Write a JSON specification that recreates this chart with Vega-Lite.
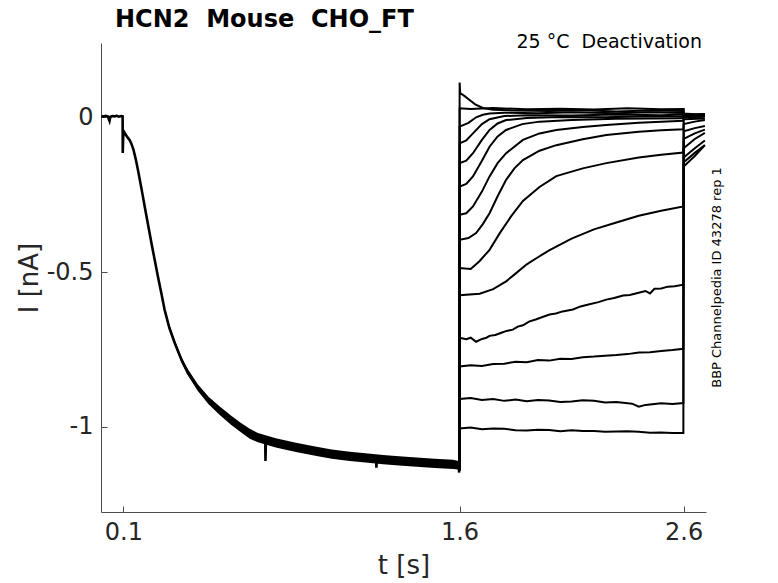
{
  "$schema": "https://vega.github.io/schema/vega-lite/v6.json",
  "width": 605,
  "height": 469,
  "autosize": {"type": "none"},
  "padding": {"left": 101, "top": 43, "right": 72, "bottom": 71},
  "background": "white",
  "config": {
    "view": {"stroke": null},
    "font": "DejaVu Sans",
    "axis": {
      "grid": false,
      "domainColor": "#4d4d4d",
      "tickColor": "#4d4d4d",
      "domainWidth": 1,
      "tickWidth": 1,
      "tickSize": -6,
      "labelColor": "#262626",
      "titleColor": "#262626",
      "labelFont": "DejaVu Sans",
      "titleFont": "DejaVu Sans",
      "labelFontSize": 24,
      "titleFontSize": 26,
      "titleFontWeight": "normal"
    }
  },
  "title": {
    "text": "HCN2\u00a0\u00a0Mouse\u00a0\u00a0CHO_FT",
    "anchor": "start",
    "frame": "group",
    "dx": 14,
    "dy": 34,
    "offset": 16.5,
    "baseline": "alphabetic",
    "font": "DejaVu Sans",
    "fontSize": 24,
    "fontWeight": "bold",
    "color": "#000000"
  },
  "datasets": {
    "band": [
      {"t": 0.3, "lo": -0.675, "hi": -0.662},
      {"t": 0.33, "lo": -0.737, "hi": -0.721},
      {"t": 0.36, "lo": -0.794, "hi": -0.776},
      {"t": 0.39, "lo": -0.836, "hi": -0.816},
      {"t": 0.433, "lo": -0.885, "hi": -0.863},
      {"t": 0.48, "lo": -0.927, "hi": -0.903},
      {"t": 0.53, "lo": -0.962, "hi": -0.934},
      {"t": 0.58, "lo": -0.993, "hi": -0.963},
      {"t": 0.62, "lo": -1.015, "hi": -0.985},
      {"t": 0.664, "lo": -1.038, "hi": -1.006},
      {"t": 0.7, "lo": -1.05, "hi": -1.02},
      {"t": 0.78, "lo": -1.067, "hi": -1.037},
      {"t": 0.87, "lo": -1.081, "hi": -1.051},
      {"t": 0.962, "lo": -1.094, "hi": -1.064},
      {"t": 1.03, "lo": -1.103, "hi": -1.073},
      {"t": 1.11, "lo": -1.11, "hi": -1.08},
      {"t": 1.18, "lo": -1.115, "hi": -1.085},
      {"t": 1.259, "lo": -1.121, "hi": -1.091},
      {"t": 1.33, "lo": -1.125, "hi": -1.095},
      {"t": 1.408, "lo": -1.129, "hi": -1.099},
      {"t": 1.49, "lo": -1.133, "hi": -1.103},
      {"t": 1.571, "lo": -1.136, "hi": -1.106},
      {"t": 1.596, "lo": -1.138, "hi": -1.11}
    ],
    "act": [
      {"t": 0.002, "i": 0.004}, {"t": 0.01, "i": 0.002}, {"t": 0.02, "i": 0.005}, {"t": 0.03, "i": 0.003},
      {"t": 0.038, "i": -0.012}, {"t": 0.042, "i": 0.002}, {"t": 0.05, "i": 0.004}, {"t": 0.06, "i": 0.003},
      {"t": 0.07, "i": 0.005}, {"t": 0.08, "i": 0.002}, {"t": 0.09, "i": 0.004}, {"t": 0.0965, "i": 0.003},
      {"t": 0.097, "i": -0.115}, {"t": 0.099, "i": -0.065}, {"t": 0.101, "i": -0.045}, {"t": 0.105, "i": -0.05},
      {"t": 0.112, "i": -0.058}, {"t": 0.12, "i": -0.066}, {"t": 0.128, "i": -0.074}, {"t": 0.136, "i": -0.086},
      {"t": 0.145, "i": -0.105}, {"t": 0.155, "i": -0.135}, {"t": 0.165, "i": -0.17}, {"t": 0.18, "i": -0.228},
      {"t": 0.195, "i": -0.288}, {"t": 0.21, "i": -0.347}, {"t": 0.225, "i": -0.406}, {"t": 0.24, "i": -0.462},
      {"t": 0.254, "i": -0.514}, {"t": 0.27, "i": -0.571}, {"t": 0.284, "i": -0.622}, {"t": 0.305, "i": -0.68},
      {"t": 0.329, "i": -0.729}, {"t": 0.36, "i": -0.785}, {"t": 0.388, "i": -0.826}, {"t": 0.433, "i": -0.874},
      {"t": 0.48, "i": -0.915}, {"t": 0.53, "i": -0.948}, {"t": 0.58, "i": -0.978}, {"t": 0.62, "i": -1.0},
      {"t": 0.664, "i": -1.022}, {"t": 0.7, "i": -1.035}, {"t": 0.733, "i": -1.043}, {"t": 0.734, "i": -1.11},
      {"t": 0.736, "i": -1.045}, {"t": 0.78, "i": -1.052}, {"t": 0.813, "i": -1.058}, {"t": 0.87, "i": -1.066},
      {"t": 0.92, "i": -1.073}, {"t": 0.962, "i": -1.079}, {"t": 1.03, "i": -1.088}, {"t": 1.11, "i": -1.095},
      {"t": 1.18, "i": -1.1}, {"t": 1.228, "i": -1.104}, {"t": 1.229, "i": -1.132}, {"t": 1.231, "i": -1.105},
      {"t": 1.259, "i": -1.106}, {"t": 1.33, "i": -1.11}, {"t": 1.408, "i": -1.114}, {"t": 1.49, "i": -1.118},
      {"t": 1.571, "i": -1.121}, {"t": 1.596, "i": -1.124}, {"t": 1.5985, "i": -1.148}
    ],
    "tails": [
      {"s": "T1", "t": 1.6, "i": -1.14}, {"s": "T1", "t": 1.6005, "i": 0.112}, {"s": "T1", "t": 1.603, "i": 0.078},
      {"s": "T1", "t": 1.62, "i": 0.07}, {"s": "T1", "t": 1.645, "i": 0.056}, {"s": "T1", "t": 1.67, "i": 0.042},
      {"s": "T1", "t": 1.704, "i": 0.03}, {"s": "T1", "t": 1.75, "i": 0.024}, {"s": "T1", "t": 1.85, "i": 0.022},
      {"s": "T1", "t": 2.0, "i": 0.02}, {"s": "T1", "t": 2.15, "i": 0.023}, {"s": "T1", "t": 2.3, "i": 0.019},
      {"s": "T1", "t": 2.45, "i": 0.022}, {"s": "T1", "t": 2.599, "i": 0.02}, {"s": "T1", "t": 2.6005, "i": 0.012},
      {"s": "T1", "t": 2.65, "i": 0.01}, {"s": "T1", "t": 2.695, "i": 0.011},

      {"s": "T2", "t": 1.6, "i": -1.14}, {"s": "T2", "t": 1.6005, "i": 0.029}, {"s": "T2", "t": 1.65, "i": 0.027},
      {"s": "T2", "t": 1.75, "i": 0.03}, {"s": "T2", "t": 1.9, "i": 0.026}, {"s": "T2", "t": 2.05, "i": 0.028},
      {"s": "T2", "t": 2.2, "i": 0.025}, {"s": "T2", "t": 2.35, "i": 0.029}, {"s": "T2", "t": 2.5, "i": 0.026},
      {"s": "T2", "t": 2.599, "i": 0.027}, {"s": "T2", "t": 2.6005, "i": 0.01}, {"s": "T2", "t": 2.695, "i": 0.009},

      {"s": "T3", "t": 1.6, "i": -1.14}, {"s": "T3", "t": 1.6005, "i": -0.03}, {"s": "T3", "t": 1.64, "i": -0.018},
      {"s": "T3", "t": 1.674, "i": 0.0}, {"s": "T3", "t": 1.704, "i": 0.008}, {"s": "T3", "t": 1.734, "i": 0.012},
      {"s": "T3", "t": 1.8, "i": 0.015}, {"s": "T3", "t": 1.95, "i": 0.013}, {"s": "T3", "t": 2.1, "i": 0.016},
      {"s": "T3", "t": 2.3, "i": 0.013}, {"s": "T3", "t": 2.45, "i": 0.016}, {"s": "T3", "t": 2.599, "i": 0.014},
      {"s": "T3", "t": 2.6005, "i": 0.008}, {"s": "T3", "t": 2.695, "i": 0.007},

      {"s": "T4", "t": 1.6, "i": -1.14}, {"s": "T4", "t": 1.6005, "i": -0.084}, {"s": "T4", "t": 1.63, "i": -0.075},
      {"s": "T4", "t": 1.66, "i": -0.052}, {"s": "T4", "t": 1.7, "i": -0.022}, {"s": "T4", "t": 1.734, "i": -0.006},
      {"s": "T4", "t": 1.8, "i": 0.004}, {"s": "T4", "t": 1.9, "i": 0.007}, {"s": "T4", "t": 2.1, "i": 0.006},
      {"s": "T4", "t": 2.3, "i": 0.009}, {"s": "T4", "t": 2.5, "i": 0.007}, {"s": "T4", "t": 2.599, "i": 0.009},
      {"s": "T4", "t": 2.6005, "i": 0.005}, {"s": "T4", "t": 2.695, "i": 0.006},

      {"s": "T5", "t": 1.6, "i": -1.14}, {"s": "T5", "t": 1.6005, "i": -0.148}, {"s": "T5", "t": 1.63, "i": -0.14},
      {"s": "T5", "t": 1.66, "i": -0.116}, {"s": "T5", "t": 1.7, "i": -0.073}, {"s": "T5", "t": 1.734, "i": -0.041},
      {"s": "T5", "t": 1.77, "i": -0.02}, {"s": "T5", "t": 1.808, "i": -0.009}, {"s": "T5", "t": 1.9, "i": -0.002},
      {"s": "T5", "t": 2.05, "i": 0.001}, {"s": "T5", "t": 2.25, "i": 0.0}, {"s": "T5", "t": 2.45, "i": 0.003},
      {"s": "T5", "t": 2.599, "i": 0.002}, {"s": "T5", "t": 2.6005, "i": 0.003}, {"s": "T5", "t": 2.695, "i": 0.004},

      {"s": "T6", "t": 1.6, "i": -1.14}, {"s": "T6", "t": 1.6005, "i": -0.224}, {"s": "T6", "t": 1.63, "i": -0.215},
      {"s": "T6", "t": 1.66, "i": -0.191}, {"s": "T6", "t": 1.7, "i": -0.14}, {"s": "T6", "t": 1.734, "i": -0.095},
      {"s": "T6", "t": 1.77, "i": -0.062}, {"s": "T6", "t": 1.808, "i": -0.041}, {"s": "T6", "t": 1.88, "i": -0.022},
      {"s": "T6", "t": 1.957, "i": -0.014}, {"s": "T6", "t": 2.1, "i": -0.009}, {"s": "T6", "t": 2.3, "i": -0.005},
      {"s": "T6", "t": 2.45, "i": -0.004}, {"s": "T6", "t": 2.599, "i": -0.003}, {"s": "T6", "t": 2.6005, "i": 0.0},
      {"s": "T6", "t": 2.695, "i": 0.002},

      {"s": "T7", "t": 1.6, "i": -1.14}, {"s": "T7", "t": 1.6005, "i": -0.315}, {"s": "T7", "t": 1.63, "i": -0.31},
      {"s": "T7", "t": 1.66, "i": -0.288}, {"s": "T7", "t": 1.7, "i": -0.24}, {"s": "T7", "t": 1.734, "i": -0.191},
      {"s": "T7", "t": 1.77, "i": -0.148}, {"s": "T7", "t": 1.808, "i": -0.116}, {"s": "T7", "t": 1.883, "i": -0.073},
      {"s": "T7", "t": 1.957, "i": -0.052}, {"s": "T7", "t": 2.032, "i": -0.041}, {"s": "T7", "t": 2.15, "i": -0.031},
      {"s": "T7", "t": 2.255, "i": -0.025}, {"s": "T7", "t": 2.4, "i": -0.018}, {"s": "T7", "t": 2.5, "i": -0.014},
      {"s": "T7", "t": 2.599, "i": -0.011}, {"s": "T7", "t": 2.6005, "i": -0.006}, {"s": "T7", "t": 2.695, "i": -0.004},

      {"s": "T8", "t": 1.6, "i": -1.14}, {"s": "T8", "t": 1.6005, "i": -0.396}, {"s": "T8", "t": 1.64, "i": -0.39},
      {"s": "T8", "t": 1.674, "i": -0.374}, {"s": "T8", "t": 1.704, "i": -0.345}, {"s": "T8", "t": 1.734, "i": -0.31},
      {"s": "T8", "t": 1.77, "i": -0.255}, {"s": "T8", "t": 1.808, "i": -0.202}, {"s": "T8", "t": 1.845, "i": -0.165},
      {"s": "T8", "t": 1.883, "i": -0.138}, {"s": "T8", "t": 1.957, "i": -0.108}, {"s": "T8", "t": 2.032, "i": -0.09},
      {"s": "T8", "t": 2.15, "i": -0.071}, {"s": "T8", "t": 2.255, "i": -0.057}, {"s": "T8", "t": 2.4, "i": -0.047},
      {"s": "T8", "t": 2.5, "i": -0.042}, {"s": "T8", "t": 2.599, "i": -0.039}, {"s": "T8", "t": 2.6005, "i": -0.022},
      {"s": "T8", "t": 2.65, "i": -0.014}, {"s": "T8", "t": 2.695, "i": -0.009},

      {"s": "T9", "t": 1.6, "i": -1.14}, {"s": "T9", "t": 1.6005, "i": -0.487}, {"s": "T9", "t": 1.65, "i": -0.49},
      {"s": "T9", "t": 1.689, "i": -0.465}, {"s": "T9", "t": 1.734, "i": -0.428}, {"s": "T9", "t": 1.779, "i": -0.375},
      {"s": "T9", "t": 1.83, "i": -0.32}, {"s": "T9", "t": 1.883, "i": -0.27}, {"s": "T9", "t": 1.957, "i": -0.225},
      {"s": "T9", "t": 2.032, "i": -0.19}, {"s": "T9", "t": 2.15, "i": -0.165}, {"s": "T9", "t": 2.255, "i": -0.148},
      {"s": "T9", "t": 2.4, "i": -0.13}, {"s": "T9", "t": 2.5, "i": -0.121}, {"s": "T9", "t": 2.599, "i": -0.114},
      {"s": "T9", "t": 2.6005, "i": -0.045}, {"s": "T9", "t": 2.65, "i": -0.035}, {"s": "T9", "t": 2.695, "i": -0.028},

      {"s": "T10", "t": 1.6, "i": -1.14}, {"s": "T10", "t": 1.6005, "i": -0.575}, {"s": "T10", "t": 1.69, "i": -0.57},
      {"s": "T10", "t": 1.75, "i": -0.555}, {"s": "T10", "t": 1.808, "i": -0.53}, {"s": "T10", "t": 1.85, "i": -0.505},
      {"s": "T10", "t": 1.9, "i": -0.475}, {"s": "T10", "t": 1.95, "i": -0.452}, {"s": "T10", "t": 2.0, "i": -0.43},
      {"s": "T10", "t": 2.1, "i": -0.392}, {"s": "T10", "t": 2.2, "i": -0.362}, {"s": "T10", "t": 2.3, "i": -0.34},
      {"s": "T10", "t": 2.4, "i": -0.318}, {"s": "T10", "t": 2.5, "i": -0.302}, {"s": "T10", "t": 2.599, "i": -0.288},
      {"s": "T10", "t": 2.6005, "i": -0.07}, {"s": "T10", "t": 2.65, "i": -0.052}, {"s": "T10", "t": 2.695, "i": -0.04},

      {"s": "T11", "t": 1.6, "i": -1.14}, {"s": "T11", "t": 1.6005, "i": -0.712}, {"s": "T11", "t": 1.63, "i": -0.717},
      {"s": "T11", "t": 1.65, "i": -0.712}, {"s": "T11", "t": 1.674, "i": -0.725}, {"s": "T11", "t": 1.7, "i": -0.716},
      {"s": "T11", "t": 1.72, "i": -0.712}, {"s": "T11", "t": 1.734, "i": -0.706}, {"s": "T11", "t": 1.76, "i": -0.703},
      {"s": "T11", "t": 1.79, "i": -0.695}, {"s": "T11", "t": 1.81, "i": -0.69}, {"s": "T11", "t": 1.838, "i": -0.686},
      {"s": "T11", "t": 1.86, "i": -0.676}, {"s": "T11", "t": 1.883, "i": -0.672}, {"s": "T11", "t": 1.91, "i": -0.66},
      {"s": "T11", "t": 1.94, "i": -0.653}, {"s": "T11", "t": 1.97, "i": -0.645}, {"s": "T11", "t": 2.002, "i": -0.637},
      {"s": "T11", "t": 2.03, "i": -0.634}, {"s": "T11", "t": 2.06, "i": -0.627}, {"s": "T11", "t": 2.106, "i": -0.621},
      {"s": "T11", "t": 2.14, "i": -0.611}, {"s": "T11", "t": 2.18, "i": -0.604}, {"s": "T11", "t": 2.22, "i": -0.597},
      {"s": "T11", "t": 2.255, "i": -0.589}, {"s": "T11", "t": 2.29, "i": -0.584}, {"s": "T11", "t": 2.33, "i": -0.576},
      {"s": "T11", "t": 2.36, "i": -0.574}, {"s": "T11", "t": 2.404, "i": -0.566}, {"s": "T11", "t": 2.43, "i": -0.561},
      {"s": "T11", "t": 2.45, "i": -0.569}, {"s": "T11", "t": 2.47, "i": -0.554}, {"s": "T11", "t": 2.5, "i": -0.553},
      {"s": "T11", "t": 2.53, "i": -0.547}, {"s": "T11", "t": 2.56, "i": -0.546}, {"s": "T11", "t": 2.599, "i": -0.541},
      {"s": "T11", "t": 2.6005, "i": -0.1}, {"s": "T11", "t": 2.65, "i": -0.07}, {"s": "T11", "t": 2.695, "i": -0.05},

      {"s": "T12", "t": 1.6, "i": -1.14}, {"s": "T12", "t": 1.6005, "i": -0.805}, {"s": "T12", "t": 1.65, "i": -0.801},
      {"s": "T12", "t": 1.7, "i": -0.803}, {"s": "T12", "t": 1.75, "i": -0.797}, {"s": "T12", "t": 1.8, "i": -0.796},
      {"s": "T12", "t": 1.85, "i": -0.79}, {"s": "T12", "t": 1.9, "i": -0.791}, {"s": "T12", "t": 1.95, "i": -0.784},
      {"s": "T12", "t": 2.0, "i": -0.786}, {"s": "T12", "t": 2.05, "i": -0.78}, {"s": "T12", "t": 2.1, "i": -0.781},
      {"s": "T12", "t": 2.15, "i": -0.775}, {"s": "T12", "t": 2.2, "i": -0.773}, {"s": "T12", "t": 2.25, "i": -0.77},
      {"s": "T12", "t": 2.3, "i": -0.768}, {"s": "T12", "t": 2.35, "i": -0.765}, {"s": "T12", "t": 2.4, "i": -0.76},
      {"s": "T12", "t": 2.45, "i": -0.759}, {"s": "T12", "t": 2.5, "i": -0.755}, {"s": "T12", "t": 2.55, "i": -0.752},
      {"s": "T12", "t": 2.599, "i": -0.748}, {"s": "T12", "t": 2.6005, "i": -0.13}, {"s": "T12", "t": 2.65, "i": -0.1},
      {"s": "T12", "t": 2.695, "i": -0.075},

      {"s": "T13", "t": 1.6, "i": -1.14}, {"s": "T13", "t": 1.6005, "i": -0.91}, {"s": "T13", "t": 1.65, "i": -0.907},
      {"s": "T13", "t": 1.7, "i": -0.913}, {"s": "T13", "t": 1.75, "i": -0.91}, {"s": "T13", "t": 1.8, "i": -0.916},
      {"s": "T13", "t": 1.85, "i": -0.912}, {"s": "T13", "t": 1.9, "i": -0.917}, {"s": "T13", "t": 1.95, "i": -0.913},
      {"s": "T13", "t": 2.0, "i": -0.915}, {"s": "T13", "t": 2.05, "i": -0.92}, {"s": "T13", "t": 2.1, "i": -0.918},
      {"s": "T13", "t": 2.15, "i": -0.914}, {"s": "T13", "t": 2.2, "i": -0.916}, {"s": "T13", "t": 2.25, "i": -0.921},
      {"s": "T13", "t": 2.3, "i": -0.92}, {"s": "T13", "t": 2.37, "i": -0.925}, {"s": "T13", "t": 2.4, "i": -0.935},
      {"s": "T13", "t": 2.43, "i": -0.929}, {"s": "T13", "t": 2.5, "i": -0.924}, {"s": "T13", "t": 2.55, "i": -0.926},
      {"s": "T13", "t": 2.599, "i": -0.923}, {"s": "T13", "t": 2.6005, "i": -0.145}, {"s": "T13", "t": 2.65, "i": -0.115},
      {"s": "T13", "t": 2.695, "i": -0.09},

      {"s": "T14", "t": 1.6, "i": -1.14}, {"s": "T14", "t": 1.6005, "i": -1.005}, {"s": "T14", "t": 1.65, "i": -1.002},
      {"s": "T14", "t": 1.7, "i": -1.008}, {"s": "T14", "t": 1.75, "i": -1.005}, {"s": "T14", "t": 1.8, "i": -1.006},
      {"s": "T14", "t": 1.85, "i": -1.011}, {"s": "T14", "t": 1.9, "i": -1.012}, {"s": "T14", "t": 1.95, "i": -1.009},
      {"s": "T14", "t": 2.0, "i": -1.01}, {"s": "T14", "t": 2.05, "i": -1.014}, {"s": "T14", "t": 2.1, "i": -1.011},
      {"s": "T14", "t": 2.15, "i": -1.013}, {"s": "T14", "t": 2.2, "i": -1.013}, {"s": "T14", "t": 2.25, "i": -1.016},
      {"s": "T14", "t": 2.3, "i": -1.015}, {"s": "T14", "t": 2.35, "i": -1.014}, {"s": "T14", "t": 2.4, "i": -1.016},
      {"s": "T14", "t": 2.45, "i": -1.019}, {"s": "T14", "t": 2.5, "i": -1.018}, {"s": "T14", "t": 2.55, "i": -1.02},
      {"s": "T14", "t": 2.599, "i": -1.02}, {"s": "T14", "t": 2.6, "i": 0.03}, {"s": "T14", "t": 2.602, "i": -0.158},
      {"s": "T14", "t": 2.65, "i": -0.125}, {"s": "T14", "t": 2.695, "i": -0.09}
    ]
  },
  "layer": [
    {
      "data": {"name": "band"},
      "mark": {"type": "area", "color": "black", "opacity": 1},
      "encoding": {
        "x": {
          "field": "t",
          "type": "quantitative",
          "scale": {"domain": [0, 2.7], "nice": false, "zero": false},
          "axis": {
            "title": "t [s]",
            "values": [0.1, 1.6, 2.6],
            "format": ".1f",
            "labelPadding": 14,
            "titleY": 61,
            "titleBaseline": "alphabetic"
          }
        },
        "y": {
          "field": "lo",
          "type": "quantitative",
          "scale": {"domain": [-1.275, 0.24], "nice": false, "zero": false},
          "axis": {
            "title": "I [nA]",
            "values": [-1, -0.5, 0],
            "labelExpr": "replace(format(datum.value, '~g'), '\u2212', '-')",
            "labelPadding": 14,
            "titleX": -64,
            "titleY": 234.5,
            "titleAngle": 270,
            "titleAlign": "center",
            "titleBaseline": "alphabetic"
          }
        },
        "y2": {"field": "hi"}
      }
    },
    {
      "data": {"name": "act"},
      "mark": {"type": "line", "color": "black", "strokeWidth": 2.6},
      "encoding": {
        "x": {"field": "t", "type": "quantitative", "axis": {"title": "t [s]"}},
        "y": {"field": "i", "type": "quantitative", "axis": {"title": "I [nA]"}}
      }
    },
    {
      "data": {"name": "tails"},
      "mark": {"type": "line", "color": "black", "strokeWidth": 2},
      "encoding": {
        "x": {"field": "t", "type": "quantitative", "axis": {"title": "t [s]"}},
        "y": {"field": "i", "type": "quantitative", "axis": {"title": "I [nA]"}},
        "detail": {"field": "s", "type": "nominal"}
      }
    },
    {
      "data": {"values": [{"note": "25 °C\u00a0\u00a0Deactivation"}]},
      "mark": {"type": "text", "align": "right", "baseline": "alphabetic", "fontSize": 19, "dx": -4, "dy": 5, "color": "#000000", "font": "DejaVu Sans"},
      "encoding": {
        "x": {"datum": 2.7, "type": "quantitative"},
        "y": {"datum": 0.24, "type": "quantitative"},
        "text": {"field": "note", "type": "nominal"}
      }
    },
    {
      "data": {"values": [{"note": "BBP Channelpedia ID 43278 rep 1"}]},
      "mark": {"type": "text", "align": "center", "baseline": "alphabetic", "angle": 270, "fontSize": 13, "dy": 15, "color": "#000000", "font": "DejaVu Sans"},
      "encoding": {
        "x": {"datum": 2.7, "type": "quantitative"},
        "y": {"datum": -0.5175, "type": "quantitative"},
        "text": {"field": "note", "type": "nominal"}
      }
    }
  ]
}
